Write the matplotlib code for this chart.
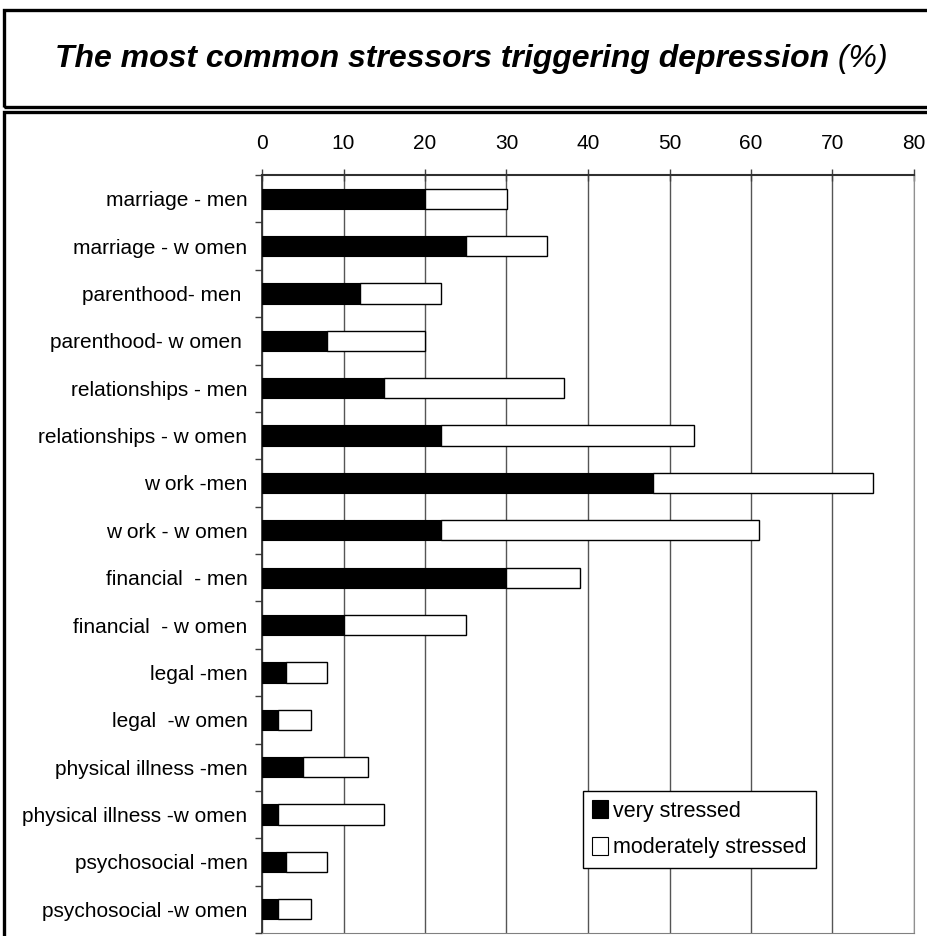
import matplotlib
matplotlib.use("Agg")
import matplotlib.pyplot as plt
from matplotlib.patches import Rectangle, Patch
import numpy as np

plt.rcParams['font.family'] = ['Liberation Sans', 'DejaVu Sans']

categories = [
    "marriage - men",
    "marriage - w omen",
    "parenthood- men ",
    "parenthood- w omen ",
    "relationships - men",
    "relationships - w omen",
    "w ork -men",
    "w ork - w omen",
    "financial  - men",
    "financial  - w omen",
    "legal -men",
    "legal  -w omen",
    "physical illness -men",
    "physical illness -w omen",
    "psychosocial -men",
    "psychosocial -w omen",
]
very_stressed = [20, 25, 12, 8, 15, 22, 48, 22, 30, 10, 3, 2, 5, 2, 3, 2]
moderately_stressed = [10, 10, 10, 12, 22, 31, 27, 39, 9, 15, 5, 4, 8, 13, 5, 4]
x_ticks = [0, 10, 20, 30, 40, 50, 60, 70, 80]

W, H = 928, 936
fig = plt.figure(figsize=(W / 100, H / 100), dpi=100)
fig.patch.set_facecolor('white')

# framed title box and chart box
fig.patches.append(Rectangle((4 / W, 1 - 107 / H), 1.2, 97 / H, transform=fig.transFigure,
                             fill=False, edgecolor='black', linewidth=2.4, zorder=0))
fig.patches.append(Rectangle((4 / W, -0.2), 1.2, 0.2 + 1 - 112 / H, transform=fig.transFigure,
                             fill=False, edgecolor='black', linewidth=2.4, zorder=0))

# title: bold italic text followed by a regular italic unit
title_y = 1 - 59 / H
t1 = fig.text(0, title_y, "The most common stressors triggering depression",
              ha='left', va='center', fontsize=23, fontweight='bold', fontstyle='italic')
t2 = fig.text(0, title_y, " (%)", ha='left', va='center', fontsize=23,
              fontweight='normal', fontstyle='italic')
renderer = fig.canvas.get_renderer()
w1 = t1.get_window_extent(renderer).width / W
w2 = t2.get_window_extent(renderer).width / W
x_start = 0.508 - (w1 + w2) / 2
t1.set_x(x_start)
t2.set_x(x_start + w1)

ax = fig.add_axes([262 / W, 1 - 933 / H, (914 - 262) / W, (933 - 175) / H])

y = np.arange(len(categories))
bar_h = 0.43
vs = np.array(very_stressed)
ms = np.array(moderately_stressed)
ax.barh(y, vs, height=bar_h, color='black', edgecolor='black', linewidth=0.8, zorder=3,
        label='very stressed')
ax.barh(y, ms, left=vs, height=bar_h, color='white', edgecolor='black', linewidth=1.0,
        zorder=3, label='moderately stressed')

ax.set_xlim(0, 80)
ax.set_ylim(len(categories) - 0.5, -0.5)
ax.set_xticks(x_ticks)
ax.xaxis.tick_top()
ax.tick_params(axis='x', which='major', direction='inout', length=8, width=1, pad=11.5,
               labelsize=15, color='#404040')
ax.set_yticks(y)
ax.set_yticklabels(categories)
ax.set_yticks(np.arange(len(categories) + 1) - 0.5, minor=True)
ax.tick_params(axis='y', which='major', length=0, pad=10.5, labelsize=15)
ax.tick_params(axis='y', which='minor', length=5, width=1, color='#404040')

ax.grid(axis='x', color='#555555', linewidth=1.0, zorder=0)
ax.set_axisbelow(True)

ax.spines['top'].set_color('#303030')
ax.spines['top'].set_linewidth(1.5)
ax.spines['left'].set_color('#303030')
ax.spines['left'].set_linewidth(1.3)
ax.spines['bottom'].set_color('#808080')
ax.spines['right'].set_color('#909090')

handles = [Patch(facecolor='black', edgecolor='black', linewidth=0.8),
           Patch(facecolor='white', edgecolor='black', linewidth=0.8)]
leg = ax.legend(handles, ['very stressed', 'moderately stressed'],
                loc='lower left', bbox_to_anchor=(0.492, 0.086),
                fontsize=15.5, frameon=True, fancybox=False, framealpha=1,
                edgecolor='black', handlelength=0.7, handleheight=0.9,
                handletextpad=0.25, labelspacing=0.7, borderpad=0.45,
                borderaxespad=0)
leg.get_frame().set_linewidth(1.0)
leg.set_zorder(5)

fig.savefig("out.png", dpi=100)
